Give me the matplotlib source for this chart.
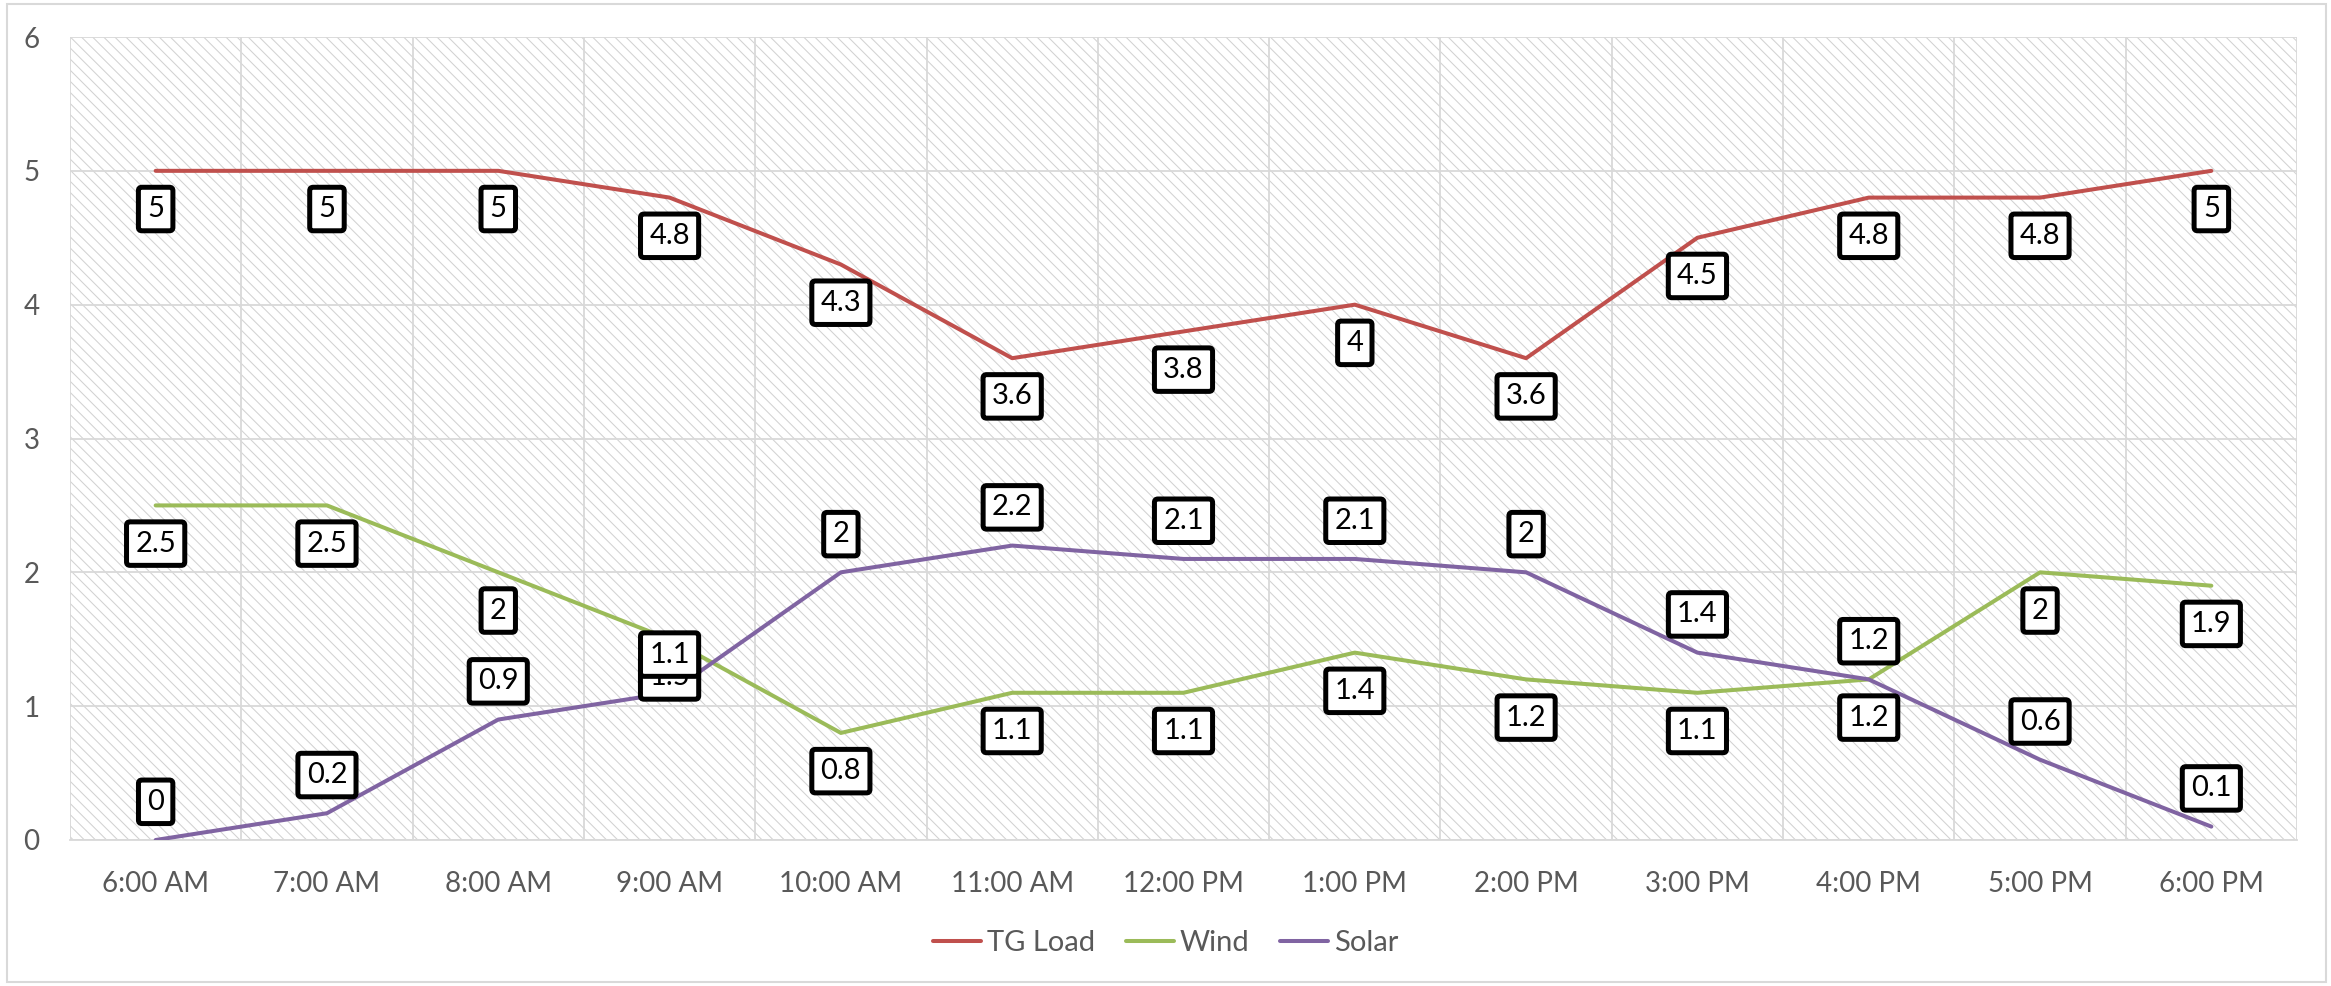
import matplotlib
matplotlib.use("Agg")
import matplotlib.pyplot as plt
from matplotlib.patches import Rectangle

# Hourly readings
hours = ["6:00 AM", "7:00 AM", "8:00 AM", "9:00 AM", "10:00 AM", "11:00 AM",
         "12:00 PM", "1:00 PM", "2:00 PM", "3:00 PM", "4:00 PM", "5:00 PM", "6:00 PM"]
tg_load = [5, 5, 5, 4.8, 4.3, 3.6, 3.8, 4, 3.6, 4.5, 4.8, 4.8, 5]
wind = [2.5, 2.5, 2, 1.5, 0.8, 1.1, 1.1, 1.4, 1.2, 1.1, 1.2, 2, 1.9]
solar = [0, 0.2, 0.9, 1.1, 2, 2.2, 2.1, 2.1, 2, 1.4, 1.2, 0.6, 0.1]

series = [
    ("TG Load", tg_load, "#C0504D", -1),  # labels below points
    ("Wind", wind, "#9BBB59", -1),        # labels below points
    ("Solar", solar, "#8064A2", 1),       # labels above points
]

plt.rcParams["font.family"] = ["Lato", "DejaVu Sans"]
plt.rcParams["hatch.linewidth"] = 0.75
FS = 20
LBL_FS = 21
GRID = "#D9D9D9"
TXT = "#595959"

W, H = 2331, 986
fig = plt.figure(figsize=(W / 100, H / 100), dpi=100)
fig.patch.set_facecolor("white")

# chart frame
fig.add_artist(Rectangle((7 / W, 4 / H), (2326 - 7) / W, (982 - 4) / H,
                         transform=fig.transFigure, facecolor="none",
                         edgecolor=GRID, linewidth=1.5))

left, right = 70 / W, 2297 / W
bottom, top = 1 - 840 / H, 1 - 37 / H
ax = fig.add_axes([left, bottom, right - left, top - bottom])
ax.patch.set_alpha(0)

# hatched plot background
ax.add_patch(Rectangle((0, 0), 1, 1, transform=ax.transAxes, facecolor="white",
                       edgecolor="#D2D2D2", hatch="\\\\\\", linewidth=0, zorder=0.1))

x = list(range(len(hours)))
ax.set_xlim(-0.5, len(hours) - 0.5)
ax.set_ylim(0, 6)
ax.set_yticks(range(0, 7))
ax.set_xticks(x)
ax.set_xticklabels(hours)
ax.set_xticks([i - 0.5 for i in range(len(hours) + 1)], minor=True)
ax.grid(True, which="major", axis="y", color=GRID, linewidth=1.3, zorder=0.5)
ax.grid(True, which="minor", axis="x", color=GRID, linewidth=1.3, zorder=0.5)
ax.tick_params(which="both", length=0)
ax.tick_params(axis="y", labelsize=FS, labelcolor=TXT, pad=22)
ax.tick_params(axis="x", labelsize=FS, labelcolor=TXT, pad=22)
for s in ["top", "right", "left"]:
    ax.spines[s].set_visible(False)
ax.spines["bottom"].set_color(GRID)
ax.spines["bottom"].set_linewidth(1.3)

handles = []
for i, (name, vals, color, side) in enumerate(series):
    ln, = ax.plot(x, vals, color=color, linewidth=2.9, solid_joinstyle="round",
                  solid_capstyle="round", zorder=3 + i, label=name)
    handles.append(ln)

for i, (name, vals, color, side) in enumerate(series):
    for xi, v in zip(x, vals):
        ax.annotate(f"{v:g}", (xi, v), xytext=(0, 27.5 * side), textcoords="offset points",
                    ha="center", va="center", fontsize=LBL_FS, color="black",
                    zorder=10 + i, annotation_clip=False,
                    bbox=dict(boxstyle="round,pad=0.3,rounding_size=0.12",
                              facecolor="white", edgecolor="black", linewidth=3.6))

fig.legend(handles=handles, loc="center", bbox_to_anchor=(0.5, 1 - 943 / H), ncol=3,
           frameon=False, fontsize=FS + 1, labelcolor=TXT, handlelength=1.65,
           handletextpad=0.2, columnspacing=1.05)

fig.savefig("out.png", dpi=100, facecolor="white")
